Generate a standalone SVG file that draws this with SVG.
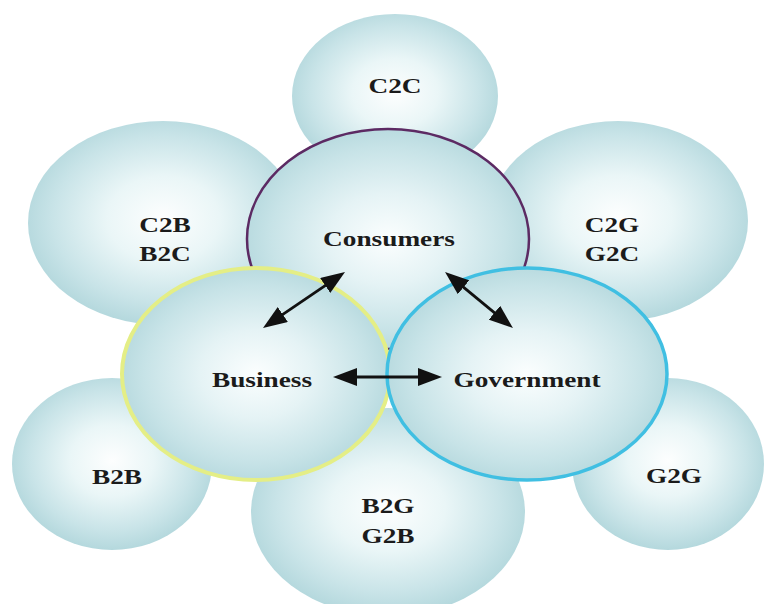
<svg xmlns="http://www.w3.org/2000/svg" width="766" height="604" viewBox="0 0 766 604">
  <defs>
    <radialGradient id="bubble" cx="50%" cy="48%" r="52%">
      <stop offset="0" stop-color="#fdfefe"/>
      <stop offset="0.4" stop-color="#eaf6f7"/>
      <stop offset="0.78" stop-color="#c9e4e8"/>
      <stop offset="1" stop-color="#b4d8dd"/>
    </radialGradient>
    <radialGradient id="core" cx="50%" cy="50%" r="52%">
      <stop offset="0" stop-color="#fbfefe"/>
      <stop offset="0.4" stop-color="#e5f3f5"/>
      <stop offset="0.8" stop-color="#c7e3e7"/>
      <stop offset="1" stop-color="#b6d9de"/>
    </radialGradient>
    <marker id="head" viewBox="0 0 24 18" markerWidth="24" markerHeight="18" refX="12" refY="9" orient="auto-start-reverse" markerUnits="userSpaceOnUse">
      <path d="M0,0 L24,9 L0,18 z" fill="#111"/>
    </marker>
    <style>
      .outer { fill: url(#bubble); }
      .core { fill: url(#core); }
      .consumers { stroke: #5c2a63; stroke-width: 2.5; }
      .business { stroke: #e4ee86; stroke-width: 4; }
      .government { stroke: #40bfe2; stroke-width: 3.5; }
      .label { font-family: "Liberation Serif", "Times New Roman", serif; font-weight: bold; font-size: 21px; fill: #1b1b1b; text-anchor: middle; }
      .link { stroke: #111; stroke-width: 2.8; fill: none; marker-start: url(#head); marker-end: url(#head); }
    </style>
  </defs>

  <rect width="766" height="604" fill="#ffffff"/>

  <!-- outer bubbles: transaction types -->
  <g id="c2c">
    <ellipse class="outer" cx="395" cy="96" rx="103" ry="82"/>
    <text class="label" transform="translate(395,93) scale(1.3,1)">C2C</text>
  </g>
  <g id="c2b-b2c">
    <ellipse class="outer" cx="163" cy="223" rx="135" ry="102"/>
    <text class="label" transform="translate(165,232) scale(1.3,1)">C2B</text>
    <text class="label" transform="translate(165,261) scale(1.3,1)">B2C</text>
  </g>
  <g id="c2g-g2c">
    <ellipse class="outer" cx="618" cy="221" rx="130" ry="100"/>
    <text class="label" transform="translate(612,232) scale(1.3,1)">C2G</text>
    <text class="label" transform="translate(612,261) scale(1.3,1)">G2C</text>
  </g>
  <g id="b2b">
    <ellipse class="outer" cx="112" cy="464" rx="100" ry="86"/>
    <text class="label" transform="translate(117,484) scale(1.3,1)">B2B</text>
  </g>
  <g id="g2g">
    <ellipse class="outer" cx="668" cy="464" rx="96" ry="86"/>
    <text class="label" transform="translate(674,483) scale(1.3,1)">G2G</text>
  </g>
  <g id="b2g-g2b">
    <ellipse class="outer" cx="388" cy="512" rx="137" ry="104"/>
    <text class="label" transform="translate(388,513) scale(1.3,1)">B2G</text>
    <text class="label" transform="translate(388,543) scale(1.3,1)">G2B</text>
  </g>

  <!-- core actors -->
  <g id="consumers">
    <ellipse class="core consumers" cx="388" cy="239" rx="141" ry="110"/>
    <text class="label" transform="translate(389,246) scale(1.3,1)">Consumers</text>
  </g>
  <g id="business">
    <ellipse class="core business" cx="256" cy="374" rx="134" ry="106"/>
    <text class="label" transform="translate(262,387) scale(1.3,1)">Business</text>
  </g>
  <g id="government">
    <ellipse class="core government" cx="527" cy="374" rx="140" ry="106"/>
    <text class="label" transform="translate(527,387) scale(1.3,1)">Government</text>
  </g>

  <!-- two-way links between actors -->
  <g id="connectors">
    <line class="link" x1="272.9" y1="321.2" x2="335.1" y2="278.8"/>
    <line class="link" x1="454.3" y1="279.6" x2="503.7" y2="320.4"/>
    <line class="link" x1="345" y1="377" x2="430" y2="377"/>
  </g>
</svg>
